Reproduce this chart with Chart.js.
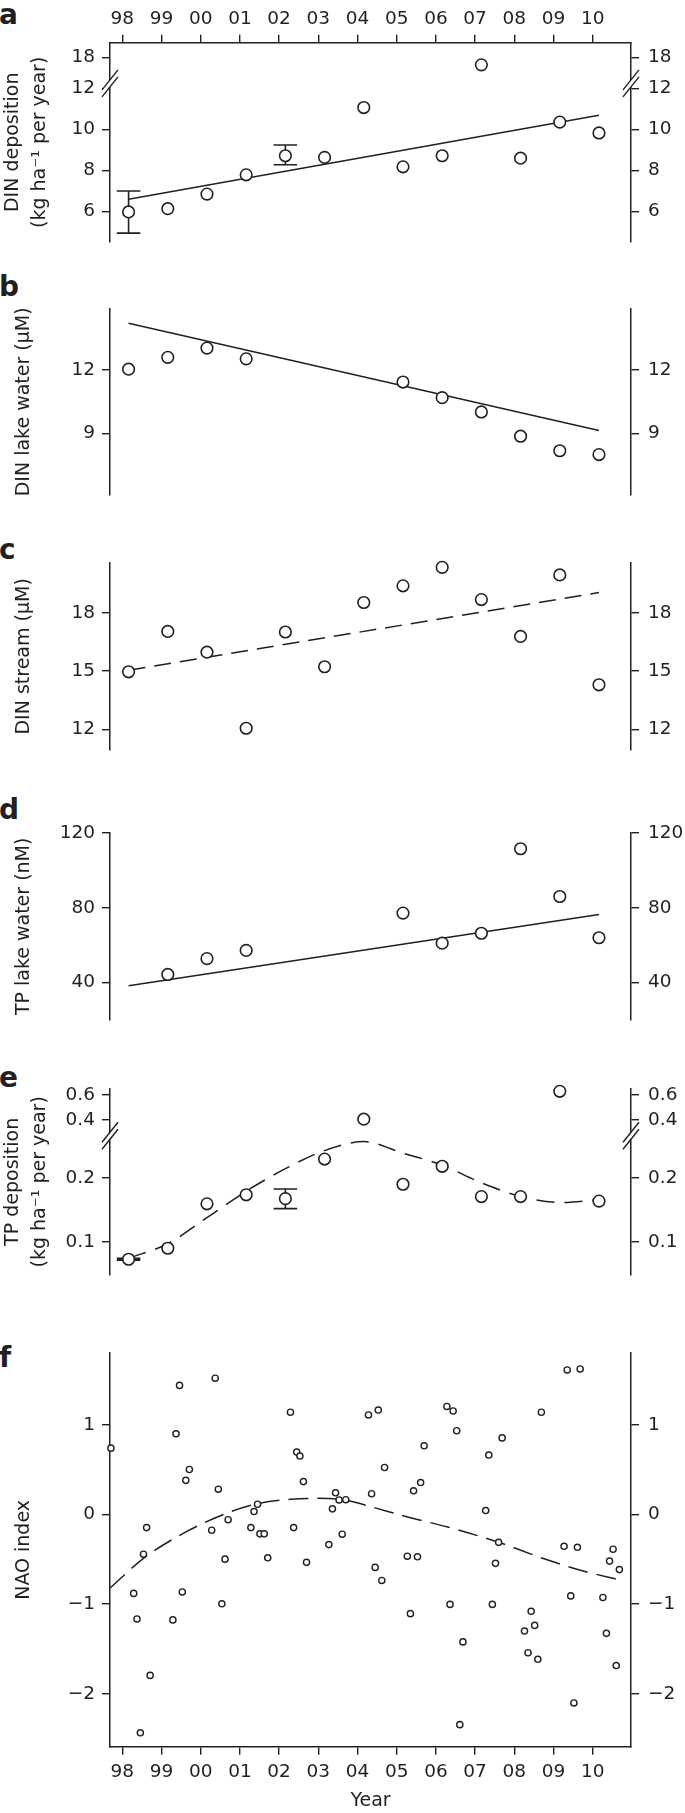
<!DOCTYPE html>
<html>
<head>
<meta charset="utf-8">
<script src="https://cdn.jsdelivr.net/npm/chart.js@4.4.1/dist/chart.umd.min.js"></script>
<style>
  body { margin: 0; background: #fff; }
  #fig { position: relative; width: 685px; height: 1813px; font-family: "DejaVu Sans", sans-serif; color: #231f20; overflow: hidden; }
  #fig canvas { position: absolute; left: 0; }
  .lab { position: absolute; left: -1px; font-weight: bold; font-size: 28px; line-height: 28px; }
</style>
</head>
<body>
<div id="fig">
  <div class="lab" style="top:1px">a</div>
  <div class="lab" style="top:273px">b</div>
  <div class="lab" style="top:536px">c</div>
  <div class="lab" style="top:796px">d</div>
  <div class="lab" style="top:1064px">e</div>
  <div class="lab" style="top:1344px">f</div>
</div>
<script>
// ---- data ----
const sampleYears = [1998.16, 1999.16, 2000.16, 2001.16, 2002.16, 2003.16, 2004.16,
                     2005.16, 2006.16, 2007.16, 2008.16, 2009.16, 2010.16];
const yearTicks = [1998, 1999, 2000, 2001, 2002, 2003, 2004, 2005, 2006, 2007, 2008, 2009, 2010];
const yearLabels = ['98', '99', '00', '01', '02', '03', '04', '05', '06', '07', '08', '09', '10'];

// a: DIN deposition (kg/ha per year)
const dinDep = [5.98, 6.14, 6.85, 7.79, 8.72, 8.64, 11.07, 8.18, 8.72, 16.6, 8.6, 10.36, 9.83];
const dinDepErrYears = [1998.16, 2002.16];
const dinDepErrLow = [4.95, 8.28];
const dinDepErrHigh = [7.0, 9.24];
const dinDepFitX = [1998.16, 2010.16];
const dinDepFitY = [6.6, 10.69];
const dinDepTicks = [6, 8, 10, 12, 18];
const dinDepTickLabels = ['6', '8', '10', '12', '18'];

// b: DIN lake water (uM)
const dinLake = [12.04, 12.6, 13.04, 12.53, null, null, null, 11.43, 10.69, 10.01, 8.86, 8.17, 7.99];
const dinLakeFitX = [1998.16, 2010.16];
const dinLakeFitY = [14.22, 9.13];
const dinLakeTicks = [9, 12];
const dinLakeTickLabels = ['9', '12'];

// c: DIN stream (uM)
const dinStream = [14.97, 17.05, 15.98, 12.06, 17.02, 15.23, 18.54, 19.4, 20.35, 18.69, 16.79, 19.96, 14.3];
const dinStreamFitX = [1998.16, 2010.16];
const dinStreamFitY = [15.05, 19.05];
const dinStreamTicks = [12, 15, 18];
const dinStreamTickLabels = ['12', '15', '18'];

// d: TP lake water (nM)
const tpLake = [null, 44.2, 52.7, 57.1, null, null, null, 77.1, 61, 66.3, 111.6, 86, 63.9];
const tpLakeFitX = [1998.16, 2010.16];
const tpLakeFitY = [38.1, 76.3];
const tpLakeTicks = [40, 80, 120];
const tpLakeTickLabels = ['40', '80', '120'];

// e: TP deposition (kg/ha per year)
const tpDep = [0.0735, 0.0906, 0.1595, 0.1735, 0.1675, 0.2289, 0.407, 0.1898, 0.2177, 0.1707, 0.1707, 0.631, 0.1637];
const tpDepErrYears = [1998.16, 2002.16];
const tpDepErrLow = [0.0722, 0.152];
const tpDepErrHigh = [0.0748, 0.1824];
const tpDepFitX = sampleYears;
const tpDepFitY = [0.075, 0.0976, 0.138, 0.179, 0.214, 0.242, 0.256, 0.238, 0.2195, 0.192, 0.171, 0.1615, 0.166];
const tpDepTicks = [0.1, 0.2, 0.4, 0.6];
const tpDepTickLabels = ['0.1', '0.2', '0.4', '0.6'];

// f: NAO index (monthly)
const naoX = [1997.71, 1998.29, 1998.375, 1998.46, 1998.54, 1998.62, 1998.71,
  1999.29, 1999.37, 1999.46, 1999.53, 1999.62, 1999.71,
  2000.28, 2000.37, 2000.45, 2000.54, 2000.62, 2000.70,
  2001.28, 2001.36, 2001.45, 2001.51, 2001.62, 2001.71,
  2002.29, 2002.37, 2002.45, 2002.53, 2002.62, 2002.70,
  2003.27, 2003.36, 2003.44, 2003.53, 2003.61, 2003.70,
  2004.28, 2004.36, 2004.45, 2004.53, 2004.62, 2004.69,
  2005.27, 2005.35, 2005.43, 2005.53, 2005.61, 2005.70,
  2006.28, 2006.36, 2006.44, 2006.53, 2006.61, 2006.69,
  2007.27, 2007.35, 2007.44, 2007.52, 2007.60, 2007.69,
  2008.26, 2008.35, 2008.43, 2008.52, 2008.60, 2008.69,
  2009.27, 2009.35, 2009.44, 2009.52, 2009.61, 2009.68,
  2010.26, 2010.35, 2010.43, 2010.52, 2010.60, 2010.68];
const naoY = [0.74, -0.88, -1.165, -2.435, -0.443, -0.146, -1.795,
  -1.176, 0.90, 1.44, -0.864, 0.381, 0.502,
  -0.176, 1.52, 0.282, -0.996, -0.498, -0.058,
  -0.146, 0.033, 0.114, -0.216, -0.216, -0.483,
  1.14, -0.146, 0.696, 0.652, 0.367, -0.534,
  -0.336, 0.063, 0.242, 0.162, -0.22, 0.165,
  1.11, 0.231, -0.59, 1.165, -0.736, 0.524,
  -0.465, -1.106, 0.264, -0.472, 0.356, 0.766,
  1.205, -1.003, 1.154, 0.934, -2.344, -1.421,
  0.044, 0.663, -1.003, -0.545, -0.311, 0.854,
  -1.30, -1.542, -1.08, -1.237, -1.615, 1.14,
  -0.355, 1.612, -0.908, -2.102, -0.366, 1.623,
  -0.926, -1.326, -0.52, -0.388, -1.685, -0.615];
const naoFitX = [1997.69, 1998.54, 1999.6, 2000.7, 2001.5, 2002.3, 2002.9, 2003.7, 2004.4, 2005.3, 2006.3, 2007.6, 2008.8, 2009.8, 2010.7];
const naoFitY = [-0.82, -0.49, -0.2, 0.02, 0.125, 0.17, 0.18, 0.16, 0.08, -0.03, -0.14, -0.31, -0.5, -0.635, -0.73];
const naoTicks = [-2, -1, 0, 1];
const naoTickLabels = ['\u22122', '\u22121', '0', '1'];

// ---- drawing ----
const ink = '#231f20';
const FONT = '"DejaVu Sans", sans-serif';
const TICK_SIZE = 18.5, TITLE_SIZE = 19;
const X_MIN = 1997.686, X_MAX = 2010.977;
const fig = document.getElementById('fig');

// broken axes: values above the break are squeezed
const brokenA = v => v <= 12.5 ? v : 12 + (v - 12) * 0.25;
const brokenE = v => v <= 0.3 ? v : 0.2894 + (v - 0.4) * 0.193;
const same = v => v;

function points(xs, ys, f) {
  return xs.map((x, i) => ys[i] == null ? null : { x: x, y: f(ys[i]) }).filter(p => p);
}

function errorBars(xs, lo, hi, f) {
  const c = 0.3, out = [];
  xs.forEach((x, i) => {
    const l = f(lo[i]), h = f(hi[i]);
    out.push({ x: x - c, y: h }, { x: x + c, y: h }, { x: x, y: null },
             { x: x, y: h }, { x: x, y: l }, { x: x, y: null },
             { x: x - c, y: l }, { x: x + c, y: l }, { x: x, y: null });
  });
  return out;
}

const axisBreak = {
  id: 'axisBreak',
  afterDraw(chart, args, opts) {
    if (opts.at == null) return;
    const ctx = chart.ctx, area = chart.chartArea;
    const y = chart.scales.y.getPixelForValue(opts.at);
    [area.left, area.right].forEach(x => {
      ctx.save();
      ctx.fillStyle = '#fff';
      ctx.beginPath();
      ctx.moveTo(x - 7, y - 3.5 + 9); ctx.lineTo(x + 7, y - 3.5 - 9);
      ctx.lineTo(x + 7, y + 3.5 - 9); ctx.lineTo(x - 7, y + 3.5 + 9);
      ctx.closePath(); ctx.fill();
      ctx.strokeStyle = ink; ctx.lineWidth = 1.4;
      [-3.5, 3.5].forEach(k => {
        ctx.beginPath();
        ctx.moveTo(x - 8, y + k + 10); ctx.lineTo(x + 8, y + k - 10);
        ctx.stroke();
      });
      ctx.restore();
    });
  }
};

function yScale(p, pos) {
  const f = p.f || same;
  const cfg = {
    type: 'linear', position: pos, min: p.min, max: p.max,
    afterFit: s => { s.width = pos === 'left' ? 110 : 54; },
    afterBuildTicks: s => { s.ticks = p.ticks.map(v => ({ value: f(v) })); },
    ticks: { autoSkip: false, padding: pos === 'left' ? 7 : 9, color: ink,
             font: { family: FONT, size: TICK_SIZE }, callback: (v, i) => p.tickLabels[i] },
    grid: { drawOnChartArea: false, drawTicks: true, tickLength: 8, color: ink, lineWidth: 1.4 },
    border: { display: true, color: ink, width: 1.5 },
    title: { display: false }
  };
  if (pos === 'left') {
    const two = Array.isArray(p.title);
    cfg.title = { display: true, text: p.title, color: ink,
                  font: { family: FONT, size: TITLE_SIZE, lineHeight: two ? 1.39 : 1.2 },
                  padding: { top: two ? 0 : 13, bottom: 0 } };
  }
  return cfg;
}

function makePanel(p) {
  const T = p.canvasTop, H = p.canvasH;
  const cv = document.createElement('canvas');
  cv.width = 685; cv.height = H; cv.style.top = T + 'px';
  fig.appendChild(cv);
  const f = p.f || same;

  const datasets = [];
  datasets.push({ data: points(sampleYears, p.values || [], f), showLine: false,
    pointRadius: 5.8, pointBorderWidth: 1.6, pointBackgroundColor: '#fff',
    pointBorderColor: ink, order: 0, clip: false });
  if (p.xs) datasets[0].data = points(p.xs, p.ys, f);
  if (p.small) { datasets[0].pointRadius = 3.1; datasets[0].pointBorderWidth = 1.4; }
  datasets.push({ data: points(p.fitX, p.fitY, f), showLine: true, borderColor: ink,
    borderWidth: 1.5, borderDash: p.dash || [], pointRadius: 0, order: 2,
    cubicInterpolationMode: p.curve ? 'monotone' : 'default', clip: false });
  if (p.errX) {
    datasets.push({ data: errorBars(p.errX, p.errLo, p.errHi, f), showLine: true,
      spanGaps: false, borderColor: ink, borderWidth: 1.6, pointRadius: 0, order: 1, clip: false });
  }

  const xCfg = {
    type: 'linear', min: X_MIN, max: X_MAX, display: !!p.xPos, position: p.xPos || 'bottom',
    afterFit: s => { s.height = p.xPos === 'top' ? p.top - T : T + H - p.bottom; },
    afterBuildTicks: s => { s.ticks = yearTicks.map(v => ({ value: v })); },
    ticks: { autoSkip: false, maxRotation: 0, padding: p.xPos === 'top' ? 4 : 6, color: ink,
             font: { family: FONT, size: TICK_SIZE }, callback: (v, i) => yearLabels[i] },
    grid: { drawOnChartArea: false, drawTicks: true, tickLength: 8, color: ink, lineWidth: 1.4 },
    border: { display: true, color: ink, width: 1.5 },
    title: { display: p.xPos === 'bottom', text: 'Year', color: ink,
             font: { family: FONT, size: TITLE_SIZE }, padding: { top: 0, bottom: 1 } }
  };

  new Chart(cv, {
    type: 'scatter',
    data: { datasets: datasets },
    options: {
      responsive: false, animation: false, events: [],
      layout: { padding: { left: 0, right: 0,
        top: p.xPos === 'top' ? 0 : p.top - T,
        bottom: p.xPos === 'bottom' ? 0 : T + H - p.bottom } },
      scales: { x: xCfg, y: yScale(p, 'left'), y2: yScale(p, 'right') },
      plugins: { legend: { display: false }, tooltip: { enabled: false },
                 axisBreak: { at: p.breakAt } }
    },
    plugins: [axisBreak]
  });
}

makePanel({ canvasTop: 0, canvasH: 262, top: 42.7, bottom: 248.3, xPos: 'top',
  min: 4.52, max: 14.23, f: brokenA, breakAt: 12.25,
  ticks: dinDepTicks, tickLabels: dinDepTickLabels,
  title: ['DIN deposition', '(kg ha\u207B\u00B9 per year)'],
  values: dinDep, fitX: dinDepFitX, fitY: dinDepFitY,
  errX: dinDepErrYears, errLo: dinDepErrLow, errHi: dinDepErrHigh });

makePanel({ canvasTop: 289, canvasH: 235, top: 303.3, bottom: 509.3,
  min: 6.09, max: 14.89, ticks: dinLakeTicks, tickLabels: dinLakeTickLabels,
  title: 'DIN lake water (\u00B5M)', values: dinLake, fitX: dinLakeFitX, fitY: dinLakeFitY });

makePanel({ canvasTop: 543, canvasH: 236, top: 557.3, bottom: 764.3,
  min: 10.96, max: 20.57, ticks: dinStreamTicks, tickLabels: dinStreamTickLabels,
  title: 'DIN stream (\u00B5M)', values: dinStream, fitX: dinStreamFitX, fitY: dinStreamFitY,
  dash: [17, 9] });

makePanel({ canvasTop: 813, canvasH: 236, top: 827.3, bottom: 1034.3,
  min: 20, max: 120, ticks: tpLakeTicks, tickLabels: tpLakeTickLabels,
  title: 'TP lake water (nM)', values: tpLake, fitX: tpLakeFitX, fitY: tpLakeFitY });

makePanel({ canvasTop: 1069, canvasH: 235, top: 1083.3, bottom: 1289.3,
  min: 0.0497, max: 0.3374, f: brokenE, breakAt: 0.265,
  ticks: tpDepTicks, tickLabels: tpDepTickLabels,
  title: ['TP deposition', '(kg ha\u207B\u00B9 per year)'],
  values: tpDep, fitX: tpDepFitX, fitY: tpDepFitY, curve: true, dash: [18, 10],
  errX: tpDepErrYears, errLo: tpDepErrLow, errHi: tpDepErrHigh });

makePanel({ canvasTop: 1333, canvasH: 480, top: 1346.7, bottom: 1746.7, xPos: 'bottom',
  min: -2.59, max: 1.80, ticks: naoTicks, tickLabels: naoTickLabels,
  title: 'NAO index', xs: naoX, ys: naoY, small: true,
  fitX: naoFitX, fitY: naoFitY, curve: true, dash: [20, 9] });
</script>
</body>
</html>
